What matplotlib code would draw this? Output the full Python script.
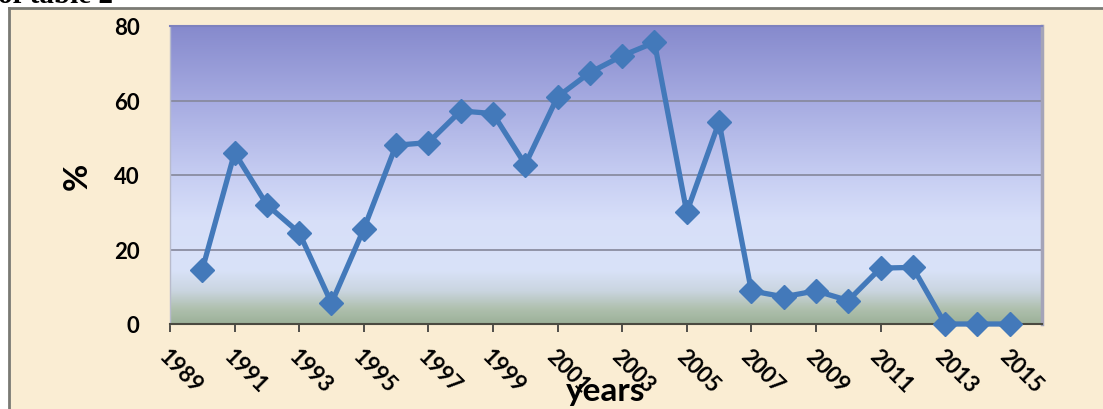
import matplotlib.pyplot as plt
import numpy as np
from matplotlib.colors import LinearSegmentedColormap
from matplotlib.patches import Rectangle
from matplotlib.lines import Line2D

plt.rcParams['font.family'] = ['Lato', 'DejaVu Sans']

# share per year (%)
years = list(range(1990, 2016))
percent = [14.6, 46.0, 32.0, 24.5, 5.6, 25.5, 48.0, 48.7, 57.2, 56.5,
           42.8, 61.0, 67.5, 72.0, 75.6, 30.0, 54.2, 8.9, 7.3, 8.9,
           6.3, 15.0, 15.2, 0.0, 0.0, 0.0]
tick_years = list(range(1989, 2016, 2))
y_ticks = [0, 20, 40, 60, 80]

W, H = 1103, 410
fig = plt.figure(figsize=(W / 100, H / 100), dpi=100, facecolor='white')

# parchment panel with grey frame on top/left
fig.patches.append(Rectangle((9 / W, 0), 1 - 9 / W, 1 - 9 / H, transform=fig.transFigure,
                             facecolor='#FAEDD3', edgecolor='none', zorder=-10))
fig.add_artist(Line2D([9 / W, 1], [1 - 9 / H, 1 - 9 / H], color='#7A7A74', lw=2, zorder=-5))
fig.add_artist(Line2D([9 / W, 9 / W], [0, 1 - 9 / H], color='#7A7A74', lw=2, zorder=-5))

# caption line above the chart (cut by the frame)
fig.text(-0.002, 1 - 3 / H, 'of table 2', family='Liberation Serif', fontsize=21,
         fontweight='bold', va='baseline', ha='left', color='black', zorder=-5)

ax = fig.add_axes([170 / W, 85 / H, 872 / W, 298 / H])
ax.set_zorder(5)

# gradient fill of the plot area (bottom -> top)
stops = [(0.0, '#9CB199'), (0.05, '#AFC0AE'), (0.11, '#CAD5E0'), (0.18, '#D9E2F8'),
         (0.35, '#D7DFF9'), (0.5, '#C6CDF2'), (0.75, '#A6ABE1'), (1.0, '#868ACD')]
cmap = LinearSegmentedColormap.from_list('plotbg', stops)
grad = np.linspace(0, 1, 256).reshape(-1, 1)
ax.imshow(grad, cmap=cmap, extent=[1989, 2016, 0, 80], aspect='auto',
          origin='lower', zorder=0)

ax.set_xlim(1989, 2016)
ax.set_ylim(0, 80)

ax.set_yticks(y_ticks)
ax.yaxis.grid(True, color='#85879A', lw=1.2)
ax.set_axisbelow(True)

ax.plot(years, percent, color='#4379BA', lw=3.8, marker='D', ms=12,
        mfc='#4379BA', mec='#4379BA', zorder=3, clip_on=False)

ax.set_xticks(tick_years)
ax.set_xticklabels([str(y) for y in tick_years], rotation=-45, ha='left',
                   rotation_mode='anchor', fontsize=16, fontweight='bold')
ax.set_yticklabels([str(v) for v in y_ticks], fontsize=16, fontweight='bold')
ax.tick_params(axis='x', length=6, width=1.2, color='#333333', pad=9)
ax.tick_params(axis='y', length=0, pad=22)

ax.spines['bottom'].set_color('#4A4A40')
ax.spines['bottom'].set_linewidth(1.5)
ax.spines['top'].set_color('#7E82BE')
ax.spines['top'].set_linewidth(1.5)
ax.spines['right'].set_color('#A4A4B8')
ax.spines['right'].set_linewidth(2.5)
ax.spines['left'].set_color('#B8BBCC')
ax.spines['left'].set_linewidth(1)

ax.set_ylabel('%', fontsize=24, fontweight='bold')
ax.yaxis.set_label_coords(-0.09, 0.5)
ax.text(0.5, -0.272, 'years', transform=ax.transAxes, ha='center', va='bottom',
        fontsize=24, fontweight='bold')

fig.savefig('out.png', dpi=100)
